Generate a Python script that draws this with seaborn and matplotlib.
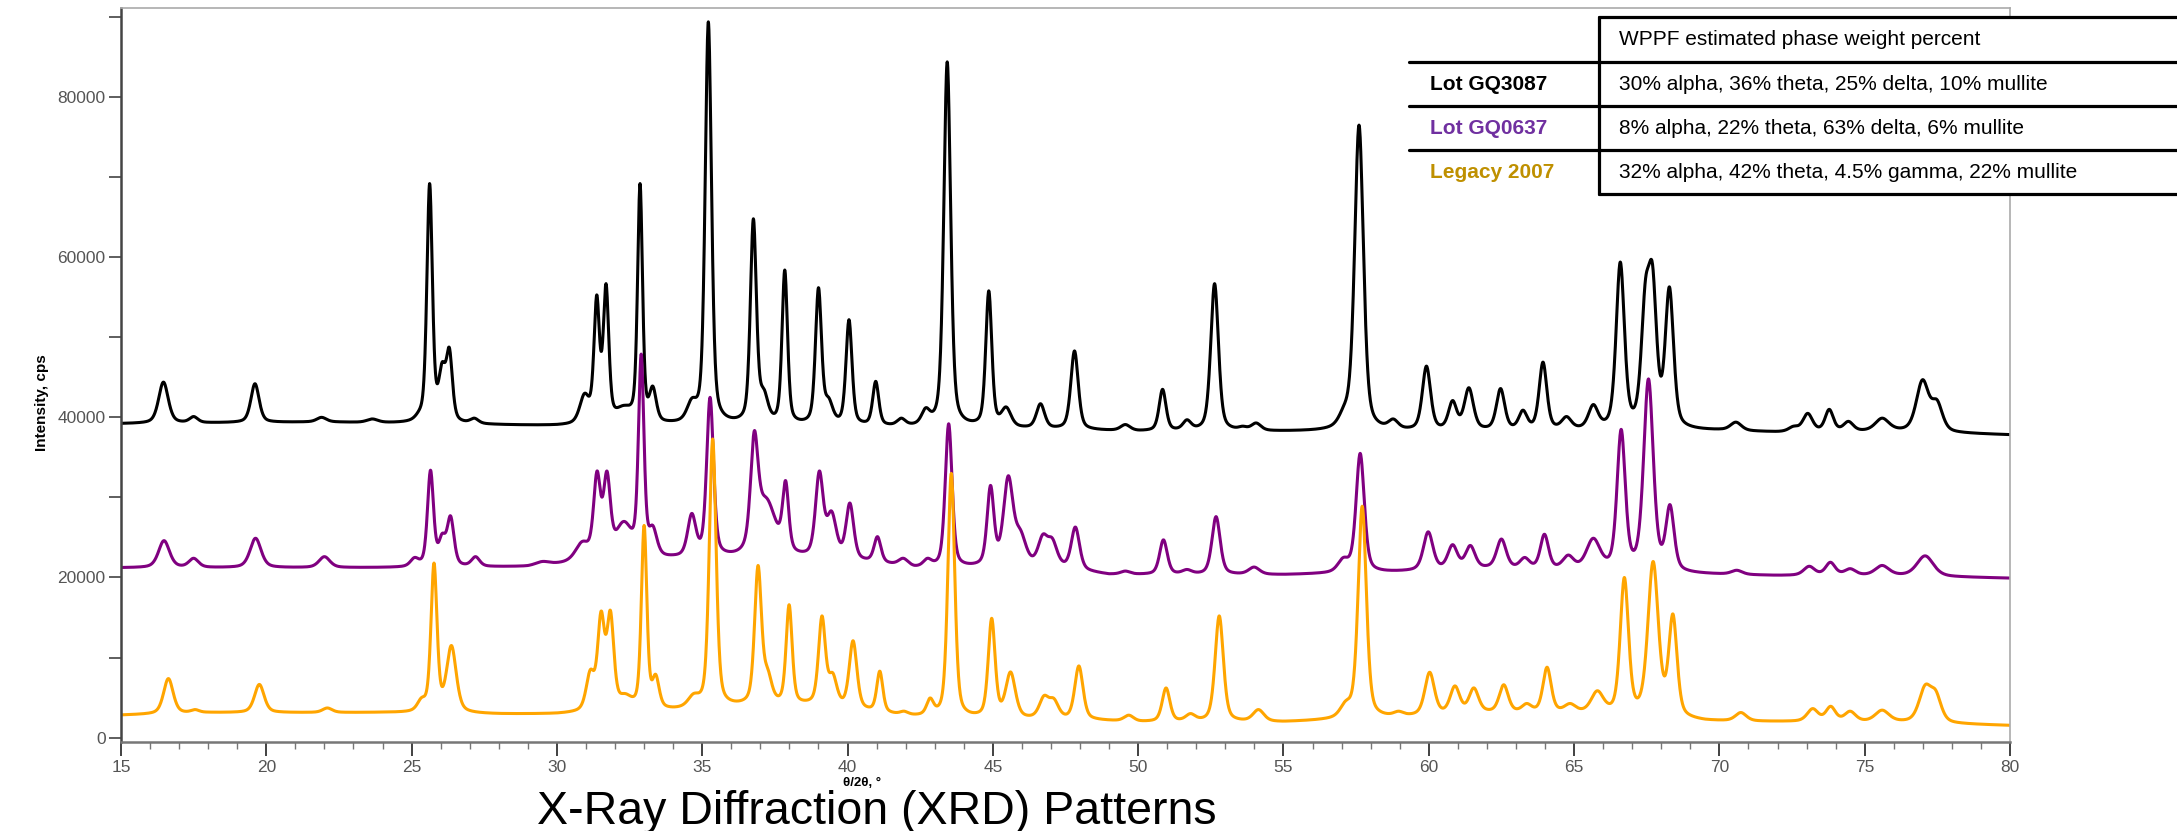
import numpy as np
import pandas as pd
import matplotlib
matplotlib.use("Agg")
import matplotlib.pyplot as plt
import seaborn as sns
from matplotlib.ticker import MultipleLocator, StrMethodFormatter
from matplotlib.lines import Line2D
from matplotlib.patches import Rectangle

# ---------------- data ----------------
samples = ["Lot GQ3087", "Lot GQ0637", "Legacy 2007"]
line_colors = ["#000000", "#800080", "#FFA500"]
label_colors = ["#000000", "#7030A0", "#BF9000"]
table_header = "WPPF estimated phase weight percent"
phase_text = [
    "30% alpha, 36% theta, 25% delta, 10% mullite",
    "8% alpha, 22% theta, 63% delta, 6% mullite",
    "32% alpha, 42% theta, 4.5% gamma, 22% mullite",
]
x_label = "θ/2θ, °"
y_label = "Intensity, cps"
title = "X-Ray Diffraction (XRD) Patterns"

# Lot GQ3087 (black) peak list: position (deg 2theta), intensity at top (cps), FWHM (deg)
gq3087_pos = [16.46, 17.5, 19.61, 21.9, 23.65, 25.27, 25.62, 26.05, 26.30, 27.16,
              30.95, 31.37, 31.69, 32.3, 32.86, 33.30, 34.64, 35.21, 36.76, 37.12,
              37.84, 39.00, 39.35, 40.05, 40.97, 41.85, 42.69, 42.95, 43.43, 44.86,
              45.46, 46.64, 47.81, 49.56, 50.84, 51.68, 52.63, 53.6, 54.06, 57.10,
              57.60, 58.78, 59.92, 60.82, 61.38, 62.47, 63.24, 63.93, 64.74, 65.66,
              66.59, 67.45, 67.70, 68.28, 70.57, 72.55, 73.04, 73.78, 74.44, 75.6,
              76.99, 77.49]
gq3087_height = [44400, 40100, 44200, 40000, 39800, 41000, 69200, 46900, 48700, 39900,
                 43000, 55300, 56700, 41500, 69200, 43900, 42400, 89400, 64800, 43600,
                 58400, 56200, 42500, 52200, 44500, 39900, 41200, 40700, 84400, 55800,
                 41300, 41700, 48300, 39100, 43500, 39700, 56700, 38900, 39300, 41700,
                 76500, 39800, 46400, 42100, 43700, 43600, 40900, 46900, 40100, 41600,
                 59400, 57000, 59100, 56300, 39400, 38900, 40500, 41000, 39500, 39900,
                 44700, 42200]
gq3087_fwhm = [0.35, 0.3, 0.3, 0.35, 0.4, 0.3, 0.2, 0.25, 0.22, 0.3,
               0.35, 0.2, 0.2, 0.6, 0.18, 0.25, 0.35, 0.23, 0.22, 0.3,
               0.2, 0.22, 0.3, 0.22, 0.22, 0.3, 0.3, 0.3, 0.25, 0.22,
               0.35, 0.3, 0.27, 0.35, 0.25, 0.3, 0.28, 0.3, 0.35, 0.4,
               0.32, 0.35, 0.3, 0.3, 0.33, 0.3, 0.3, 0.28, 0.35, 0.35,
               0.3, 0.3, 0.3, 0.3, 0.4, 0.35, 0.35, 0.3, 0.35, 0.5,
               0.45, 0.4]
gq3087_bg_x = [15, 22, 25, 30, 35, 40, 45, 50, 55, 60, 65, 70, 72, 76, 80]
gq3087_bg_y = [39200, 39400, 39200, 38900, 39000, 38800, 38600, 38200, 38200, 38200,
               38300, 38300, 38100, 38200, 37800]

# Lot GQ0637 (purple)
gq0637_pos = [16.48, 17.5, 19.63, 22.0, 25.1, 25.65, 26.05, 26.34, 27.2, 29.5,
              30.87, 31.38, 31.72, 32.3, 32.90, 33.3, 34.64, 35.27, 36.79, 37.2,
              37.87, 39.03, 39.45, 40.08, 41.03, 41.92, 42.75, 43.48, 44.92, 45.53,
              45.95, 46.72, 47.05, 47.84, 49.56, 50.87, 51.68, 52.68, 53.99, 57.06,
              57.64, 58.9, 59.98, 60.82, 61.43, 62.50, 63.3, 63.98, 64.8, 65.66,
              66.62, 67.56, 68.30, 70.6, 73.09, 73.82, 74.5, 75.6, 77.08]
gq0637_height = [24600, 22400, 24900, 22600, 22500, 33400, 25500, 27700, 22600, 22000,
                 24500, 33300, 33300, 27000, 47900, 26500, 28000, 42500, 38300, 30000,
                 32100, 33300, 28300, 29300, 25100, 22400, 22400, 39200, 31500, 32700,
                 26000, 25400, 24900, 26300, 20800, 24700, 21000, 27600, 21300, 22500,
                 35500, 20800, 25700, 24100, 24000, 24800, 22500, 25400, 22800, 24900,
                 38500, 44800, 29100, 20900, 21400, 21900, 21100, 21500, 22700]
gq0637_fwhm = [0.4, 0.35, 0.4, 0.4, 0.3, 0.22, 0.25, 0.25, 0.3, 0.5,
               0.5, 0.25, 0.25, 0.6, 0.2, 0.3, 0.3, 0.25, 0.27, 0.7,
               0.22, 0.28, 0.35, 0.28, 0.25, 0.35, 0.3, 0.25, 0.25, 0.35,
               0.4, 0.35, 0.35, 0.3, 0.35, 0.28, 0.35, 0.3, 0.4, 0.4,
               0.3, 0.35, 0.35, 0.35, 0.35, 0.35, 0.35, 0.3, 0.4, 0.5,
               0.3, 0.35, 0.3, 0.4, 0.4, 0.35, 0.4, 0.5, 0.6]
gq0637_bg_x = [15, 25, 29, 31, 34, 38, 41, 42.3, 44, 47, 49, 55, 58.5, 62, 65, 69, 72, 76, 80]
gq0637_bg_y = [21200, 21200, 21300, 21800, 22200, 22400, 21700, 21100, 21100, 21200,
               20300, 20300, 20600, 21000, 20800, 20400, 20200, 20200, 19900]

# Legacy 2007 (orange)
legacy_pos = [16.63, 17.55, 19.76, 22.1, 25.34, 25.77, 26.37, 31.15, 31.52, 31.84,
              32.35, 33.0, 33.4, 34.7, 35.36, 36.92, 37.25, 37.99, 39.12, 39.49,
              40.19, 41.11, 41.95, 42.84, 43.57, 44.96, 45.61, 46.76, 47.1, 47.96,
              49.68, 50.96, 51.8, 52.79, 54.14, 57.14, 57.71, 58.96, 60.03, 60.90,
              61.55, 62.58, 63.37, 64.07, 64.86, 65.8, 66.73, 67.72, 68.40, 70.74,
              73.21, 73.83, 74.5, 75.6, 77.08, 77.45]
legacy_height = [7370, 3500, 6640, 3700, 5000, 21800, 11500, 8500, 15800, 15900,
                 5500, 26500, 7900, 5500, 37300, 21500, 8700, 16600, 15200, 8100,
                 12100, 8300, 3300, 4950, 33000, 14900, 8200, 5250, 4900, 8950,
                 2800, 6200, 3000, 15200, 3500, 4600, 28900, 3300, 8160, 6460,
                 6210, 6600, 4260, 8790, 4260, 5850, 20000, 22000, 15450, 3130,
                 3620, 3910, 3300, 3430, 6600, 5900]
legacy_fwhm = [0.35, 0.3, 0.35, 0.35, 0.3, 0.22, 0.35, 0.3, 0.25, 0.25,
               0.5, 0.2, 0.25, 0.4, 0.25, 0.25, 0.3, 0.22, 0.25, 0.3,
               0.28, 0.22, 0.3, 0.25, 0.25, 0.25, 0.35, 0.35, 0.35, 0.3,
               0.35, 0.28, 0.35, 0.3, 0.4, 0.4, 0.3, 0.35, 0.35, 0.35,
               0.35, 0.33, 0.35, 0.3, 0.4, 0.45, 0.3, 0.38, 0.3, 0.4,
               0.4, 0.35, 0.4, 0.5, 0.45, 0.4]
legacy_bg_x = [15, 18, 24, 28, 30, 34, 37, 39, 42, 44.2, 48.5, 50, 55, 58.5, 62, 65, 69.5, 76, 80]
legacy_bg_y = [2800, 3100, 3100, 2900, 2900, 3300, 3900, 3900, 2600, 2300, 2100, 1900,
               1900, 2400, 3000, 3000, 2000, 1900, 1500]

x_range = (15, 80)
y_range = (-550, 91130)

# peak-shape settings (pseudo-Voigt)
LORENTZ_FRACTION = 0.45
WIDTH_SCALE = 1.12


# ---------------- build the profiles from the peak lists ----------------
def profile(x, c, w):
    w = w * WIDTH_SCALE
    d = (x - c) / (w / 2.0)
    eta = LORENTZ_FRACTION
    return eta / (1.0 + d * d) + (1.0 - eta) * np.exp(-np.log(2.0) * d * d)


def pattern(x, pos, height, fwhm, bg_x, bg_y):
    pos = np.asarray(pos, float)
    height = np.asarray(height, float)
    fwhm = np.asarray(fwhm, float)
    bg = np.interp(x, bg_x, bg_y)
    target = height - np.interp(pos, bg_x, bg_y)
    M = profile(pos[:, None], pos[None, :], fwhm[None, :])
    amp = np.clip(target.copy(), 0, None)
    for _ in range(500):
        amp = np.clip(amp + 0.5 * (target - M @ amp), 0, None)
    return bg + (profile(x[:, None], pos[None, :], fwhm[None, :]) * amp).sum(axis=1)


two_theta = np.linspace(x_range[0], x_range[1], 6501)
series = [
    (gq3087_pos, gq3087_height, gq3087_fwhm, gq3087_bg_x, gq3087_bg_y),
    (gq0637_pos, gq0637_height, gq0637_fwhm, gq0637_bg_x, gq0637_bg_y),
    (legacy_pos, legacy_height, legacy_fwhm, legacy_bg_x, legacy_bg_y),
]
frames = []
for name, s in zip(samples, series):
    frames.append(pd.DataFrame({"two_theta": two_theta,
                                "intensity": pattern(two_theta, *s),
                                "sample": name}))
df = pd.concat(frames, ignore_index=True)

# ---------------- figure ----------------
sns.set_theme(style="white")
plt.rcParams["font.family"] = ["Liberation Sans", "DejaVu Sans"]

W, H = 2177, 831
fig = plt.figure(figsize=(W / 100, H / 100), dpi=100)
ax = fig.add_axes([121 / W, 1 - 742 / H, (2010 - 121) / W, (742 - 8) / H])

sns.lineplot(data=df, x="two_theta", y="intensity", hue="sample",
             hue_order=samples, palette=line_colors, linewidth=2.2,
             legend=False, ax=ax, sort=False)

ax.set_xlim(*x_range)
ax.set_ylim(*y_range)
ax.set_xlabel("")
ax.set_ylabel("")

ax.xaxis.set_major_locator(MultipleLocator(5))
ax.xaxis.set_minor_locator(MultipleLocator(1))
ax.yaxis.set_major_locator(MultipleLocator(20000))
ax.yaxis.set_minor_locator(MultipleLocator(10000))
ax.yaxis.set_major_formatter(StrMethodFormatter("{x:.0f}"))

ax.tick_params(axis="x", which="major", direction="out", length=10, width=1.3,
               color="#333333", labelsize=12.5, labelcolor="#555555", pad=3,
               bottom=True)
ax.tick_params(axis="x", which="minor", direction="out", length=5, width=1.0,
               color="#777777", bottom=True)
ax.tick_params(axis="y", which="both", direction="out", length=9, width=1.1,
               color="#333333", labelsize=12.5, labelcolor="#555555", pad=2,
               left=True)

for side in ["top", "right"]:
    ax.spines[side].set_color("#aaaaaa")
    ax.spines[side].set_linewidth(1.2)
ax.spines["left"].set_color("#444444")
ax.spines["left"].set_linewidth(1.8)
ax.spines["bottom"].set_color("#777777")
ax.spines["bottom"].set_linewidth(1.8)

fig.text(42 / W, 1 - 403 / H, y_label, rotation=90, ha="center", va="center",
         fontsize=11, fontweight="bold", color="#000000")
fig.text(862 / W, 1 - 783 / H, x_label, ha="center", va="center",
         fontsize=9.5, fontweight="bold", color="#000000")
fig.text(877 / W, 1 - 824 / H, title, ha="center", va="baseline",
         fontsize=33.5, color="#000000")

# ---------------- phase table (overlay) ----------------
tax = fig.add_axes([0, 0, 1, 1], zorder=5)
tax.set_xlim(0, W)
tax.set_ylim(H, 0)
tax.axis("off")
tax.patch.set_alpha(0)

col_x = 1599
left_x = 1409
row_y = [17, 62, 106, 150, 194]
tax.add_patch(Rectangle((left_x, row_y[1]), col_x - left_x, row_y[4] - row_y[1],
                        facecolor="white", edgecolor="none"))
tax.add_patch(Rectangle((col_x, row_y[0]), W - col_x, row_y[4] - row_y[0],
                        facecolor="white", edgecolor="none"))
lw_tab = 2.3
tax.add_line(Line2D([col_x, W], [row_y[0], row_y[0]], color="black", lw=lw_tab))
for yy in row_y[1:4]:
    tax.add_line(Line2D([left_x, W], [yy, yy], color="black", lw=lw_tab))
tax.add_line(Line2D([col_x, W], [row_y[4], row_y[4]], color="black", lw=lw_tab))
tax.add_line(Line2D([col_x, col_x], [row_y[0], row_y[4]], color="black", lw=lw_tab))

tax.text(1619, (row_y[0] + row_y[1]) / 2, table_header, ha="left", va="center",
         fontsize=15, color="#000000")
for i, (name, txt, col) in enumerate(zip(samples, phase_text, label_colors)):
    yc = (row_y[i + 1] + row_y[i + 2]) / 2
    tax.text(1430, yc, name, ha="left", va="center", fontsize=15,
             fontweight="bold", color=col)
    tax.text(1619, yc, txt, ha="left", va="center", fontsize=15, color="#000000")

fig.savefig("out.png", dpi=100)
